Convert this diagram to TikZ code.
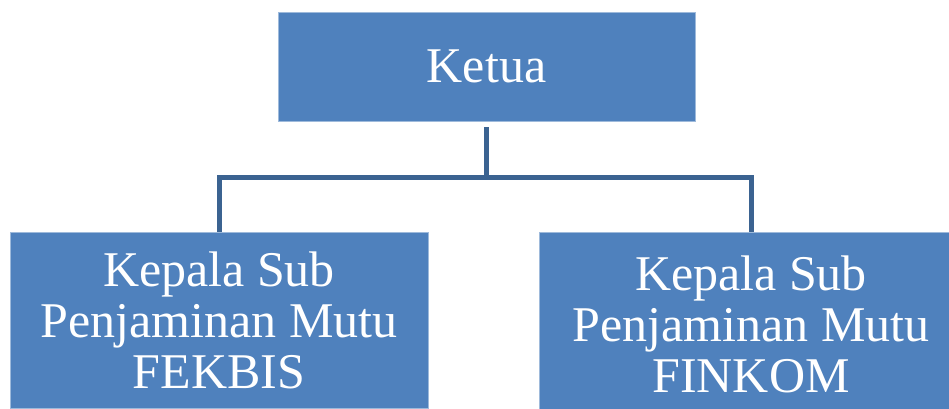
\documentclass[tikz,border=0pt]{standalone}
\usepackage{fontspec}
\setmainfont{Liberation Serif}
\usetikzlibrary{positioning}
\definecolor{boxblue}{HTML}{4F81BD}
\definecolor{lineblue}{HTML}{3B6391}

\begin{document}
\begin{tikzpicture}[x=1pt, y=-1pt, inner sep=0pt,
      unit/.style={fill=boxblue, draw=boxblue!55!white, line width=0.6pt,
        text=white, align=center, font=\fontsize{50}{51}\selectfont},
      link/.style={draw=lineblue, line width=5pt}]
      \useasboundingbox (0,0) rectangle (949,408);
      \clip (0,0) rectangle (949,408);
      % ketua
      \node[unit, minimum width=417pt, minimum height=109pt] (ketua) at (486.5,66.5) {Ketua};
      % two sub units
      \node[unit, minimum width=418pt, minimum height=176pt] (fekbis) at (219,320)
        {Kepala Sub\\Penjaminan Mutu\\FEKBIS};
      \node[unit, minimum width=424pt, minimum height=184pt] (finkom) at (751,324)
        {Kepala Sub\\Penjaminan Mutu\\FINKOM};
      % links
      \coordinate (hub) at (486.5,177);
      \draw[link, shorten <=6pt] (ketua.south) -- (hub);
      \draw[link] (fekbis.north) |- (hub) -| (finkom.north);
\end{tikzpicture}
\end{document}
